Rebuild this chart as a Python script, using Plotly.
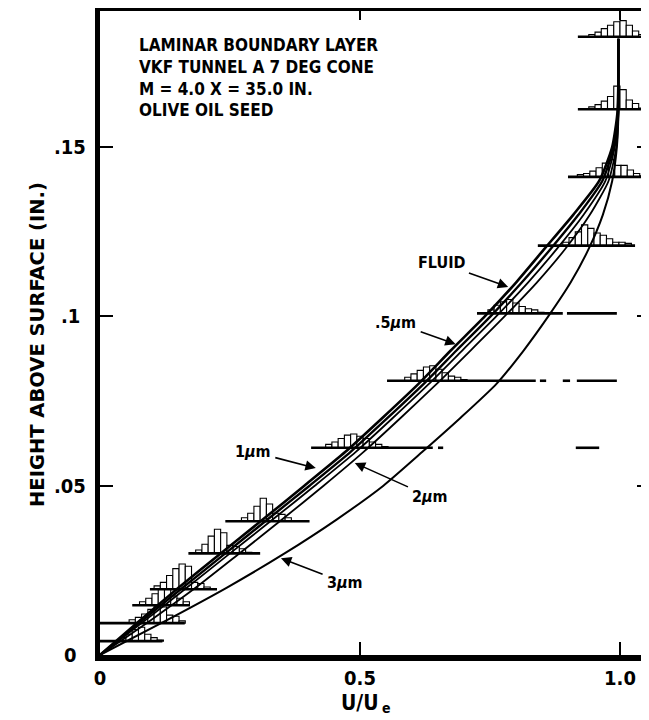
import plotly.graph_objects as go

# ---------------- data ----------------
heights = [0, 0.01, 0.02, 0.03, 0.04, 0.05, 0.06, 0.07, 0.08, 0.09, 0.10,
           0.11, 0.12, 0.13, 0.14, 0.15, 0.16, 0.17, 0.182]
u_fluid = [0, .075, .152, .232, .313, .393, .472, .543, .612, .675, .740,
           .800, .855, .910, .960, .985, .995, .997, .997]
u_05um = [0, .080, .160, .241, .322, .403, .482, .553, .622, .686, .751,
          .811, .867, .920, .966, .988, .996, .997, .997]
u_1um = [0, .085, .168, .250, .332, .413, .492, .563, .632, .697, .762,
         .823, .879, .930, .972, .990, .997, .997, .997]
u_2um = [0, .095, .185, .268, .350, .430, .507, .578, .647, .713, .778,
         .840, .895, .942, .978, .993, .997, .997, .997]
u_3um = [0, .125, .245, .355, .455, .545, .620, .693, .762, .815, .862,
         .905, .940, .967, .985, .994, .997, .997, .997]

curve_names = ["FLUID", ".5um", "1um", "2um", "3um"]

# particle velocity histograms measured at several heights
hist_levels = [0.0041, 0.0094, 0.0147, 0.0194, 0.0300, 0.0395, 0.0612,
               0.0810, 0.1009, 0.1209, 0.1412, 0.1612, 0.1826]
hist_first_bin = [0.044, 0.062, 0.082, 0.110, 0.190, 0.278, 0.440,
                  0.592, 0.752, 0.896, 0.924, 0.946, 0.946]
hist_bin_width = 0.012
hist_counts = [
    [3, 6, 10, 12, 6, 3, 1],
    [3, 5, 8, 12, 15, 14, 7, 6, 2],
    [3, 6, 10, 14, 15, 8, 6, 3],
    [3, 6, 12, 18, 22, 20, 6, 5, 2],
    [3, 8, 15, 21, 18, 7, 6, 4, 1],
    [3, 7, 13, 20, 15, 7, 6, 3],
    [3, 5, 8, 11, 12, 10, 8, 5, 3, 1],
    [3, 6, 9, 12, 13, 10, 7, 4, 3, 1],
    [3, 7, 10, 12, 9, 6, 4, 3, 1],
    [3, 7, 12, 18, 15, 11, 9, 6, 3, 3, 2],
    [2, 3, 5, 8, 12, 15, 10, 10, 6, 3, 1],
    [2, 4, 7, 11, 20, 17, 8, 5, 1],
    [2, 4, 7, 10, 13, 14, 10, 5, 2],
]
# U/Ue extent of the measured range line drawn under each histogram
hist_ranges = [
    [(-0.015, 0.120)],
    [(0.0, 0.163)],
    [(0.062, 0.173)],
    [(0.096, 0.225)],
    [(0.170, 0.308)],
    [(0.241, 0.403)],
    [(0.406, 0.640), (0.650, 0.660), (0.915, 0.960)],
    [(0.552, 0.838), (0.846, 0.858), (0.890, 0.904), (0.917, 0.994)],
    [(0.725, 0.890), (0.898, 0.994)],
    [(0.842, 1.029)],
    [(0.900, 1.048)],
    [(0.919, 1.054)],
    [(0.919, 1.054)],
]

x_ticks = [0, 0.5, 1.0]
x_tick_text = ["0", "0.5", "1.0"]
y_ticks = [0, 0.05, 0.10, 0.15]
y_tick_text = ["0", ".05", ".1", ".15"]

title_lines = ["LAMINAR BOUNDARY LAYER", "VKF TUNNEL A 7 DEG CONE",
               "M = 4.0 X = 35.0 IN.", "OLIVE OIL SEED"]

# curve labels: text, label centre (U/Ue, height), arrow tip (U/Ue, height)
curve_labels = [
    ("FLUID", (0.656, 0.1158), (0.785, 0.1087)),
    (".5<i>μ</i>m", (0.569, 0.0981), (0.684, 0.0918)),
    ("1<i>μ</i>m", (0.294, 0.0600), (0.415, 0.0552)),
    ("2<i>μ</i>m", (0.635, 0.0467), (0.490, 0.0567)),
    ("3<i>μ</i>m", (0.471, 0.0213), (0.348, 0.0286)),
]

# ---------------- styling ----------------
COND = "DejaVu Sans Condensed, DejaVu Sans, sans-serif"
HIST_SCALE = 0.00034           # inches of height per count unit
X_RANGE = [0, 1.0558]
Y_RANGE = [0, 0.1902]
# the page body has an 8px margin; size the figure so it fills the window
FIG_W, FIG_H = 641, 712
M_L, M_R, M_T, M_B = 92, 0, 3, 65
plot_w = FIG_W - M_L - M_R
plot_h = FIG_H - M_T - M_B


def paper_x(fig_px):
    return (fig_px - M_L) / plot_w


def paper_y(fig_py):
    return (FIG_H - M_B - fig_py) / plot_h


fig = go.Figure()

# histograms (white bars with black outline -> hatched look)
for lvl, c0, counts in zip(hist_levels, hist_first_bin, hist_counts):
    centers = [c0 + i * hist_bin_width for i in range(len(counts))]
    fig.add_trace(go.Bar(
        x=centers, y=[c * HIST_SCALE for c in counts], base=lvl,
        width=hist_bin_width,
        marker=dict(color="white", line=dict(color="black", width=1.1)),
        hoverinfo="skip", showlegend=False))

# baselines
for lvl, segs in zip(hist_levels, hist_ranges):
    xs, ys = [], []
    for a, b in segs:
        xs += [a, b, None]
        ys += [lvl, lvl, None]
    fig.add_trace(go.Scatter(x=xs, y=ys, mode="lines",
                             line=dict(color="black", width=2.6),
                             hoverinfo="skip", showlegend=False))

# velocity profile curves
for name, u, w in zip(curve_names, [u_fluid, u_05um, u_1um, u_2um, u_3um],
                      [2.6, 2.4, 1.8, 1.8, 2.0]):
    fig.add_trace(go.Scatter(x=u, y=heights, mode="lines", name=name,
                             line=dict(color="black", width=w, shape="spline",
                                       smoothing=0.6),
                             hoverinfo="skip", showlegend=False))

# empty trace so the top/right frame axes get drawn
fig.add_trace(go.Scatter(x=[], y=[], xaxis="x2", yaxis="y2",
                         showlegend=False, hoverinfo="skip"))

tickfont = dict(family=COND, size=20, color="black", weight="bold")
fig.update_layout(
    width=FIG_W, height=FIG_H,
    margin=dict(l=M_L, r=M_R, t=M_T, b=M_B),
    paper_bgcolor="white", plot_bgcolor="white",
    barmode="overlay", showlegend=False,
    xaxis=dict(range=X_RANGE, tickvals=x_ticks, ticktext=x_tick_text,
               ticks="inside", ticklen=13, tickwidth=2, tickcolor="black",
               showline=True, linewidth=6, linecolor="black",
               showgrid=False, zeroline=False, tickfont=tickfont),
    yaxis=dict(range=Y_RANGE, tickvals=y_ticks, showticklabels=False,
               ticks="inside", ticklen=13, tickwidth=2, tickcolor="black",
               showline=True, linewidth=5, linecolor="black",
               showgrid=False, zeroline=False),
    xaxis2=dict(range=X_RANGE, overlaying="x", side="top", anchor="y2",
                tickvals=[0.5, 1.0], ticks="inside", ticklen=9, tickwidth=2,
                tickcolor="black", showline=True, linewidth=3,
                linecolor="black", showticklabels=False, showgrid=False,
                zeroline=False),
    yaxis2=dict(range=Y_RANGE, overlaying="y", side="right", anchor="x2",
                tickvals=[0.05, 0.10, 0.15], ticks="inside", ticklen=12,
                tickwidth=2, tickcolor="black", showline=False,
                showticklabels=False, showgrid=False, zeroline=False),
)

ann = []
# y tick labels, centred in the left margin like the original
for val, txt in zip(y_ticks, y_tick_text):
    ann.append(dict(x=paper_x(62), y=val / Y_RANGE[1], xref="paper",
                    yref="paper", text=txt, showarrow=False,
                    xanchor="center", yanchor="middle", font=tickfont))

# title block
for txt, yy in zip(title_lines, [0.1802, 0.1738, 0.1672, 0.1610]):
    ann.append(dict(x=0.0712, y=yy, xref="x", yref="y", text=txt,
                    showarrow=False, xanchor="left", yanchor="middle",
                    font=dict(family=COND, size=17, color="black",
                              weight="bold")))

# curve labels with leader arrows
for txt, (lx, ly), (tx, ty) in curve_labels:
    ann.append(dict(x=tx, y=ty, ax=lx, ay=ly, xref="x", yref="y",
                    axref="x", ayref="y", text=txt, showarrow=True,
                    arrowhead=2, arrowsize=1.3, arrowwidth=1.6,
                    arrowcolor="black", standoff=0, startstandoff=3,
                    font=dict(family=COND, size=16, color="black",
                              weight="bold")))

# x axis title "U/Ue" (subscript drawn as its own smaller text)
ann.append(dict(x=paper_x(373), y=paper_y(695), xref="paper", yref="paper",
                text="U/U", showarrow=False, xanchor="right",
                yanchor="middle",
                font=dict(family=COND, size=21, color="black", weight="bold")))
ann.append(dict(x=paper_x(372), y=paper_y(700), xref="paper", yref="paper",
                text="e", showarrow=False, xanchor="left", yanchor="middle",
                font=dict(family=COND, size=14, color="black", weight="bold")))
# y axis title
ann.append(dict(x=paper_x(30), y=paper_y(337),
                xref="paper", yref="paper",
                text="HEIGHT ABOVE SURFACE (IN.)", showarrow=False,
                textangle=-90, xanchor="center", yanchor="middle",
                font=dict(family="DejaVu Sans, sans-serif", size=19.5,
                          color="black", weight="bold")))
fig.update_layout(annotations=ann)

fig.write_html("out.html")
